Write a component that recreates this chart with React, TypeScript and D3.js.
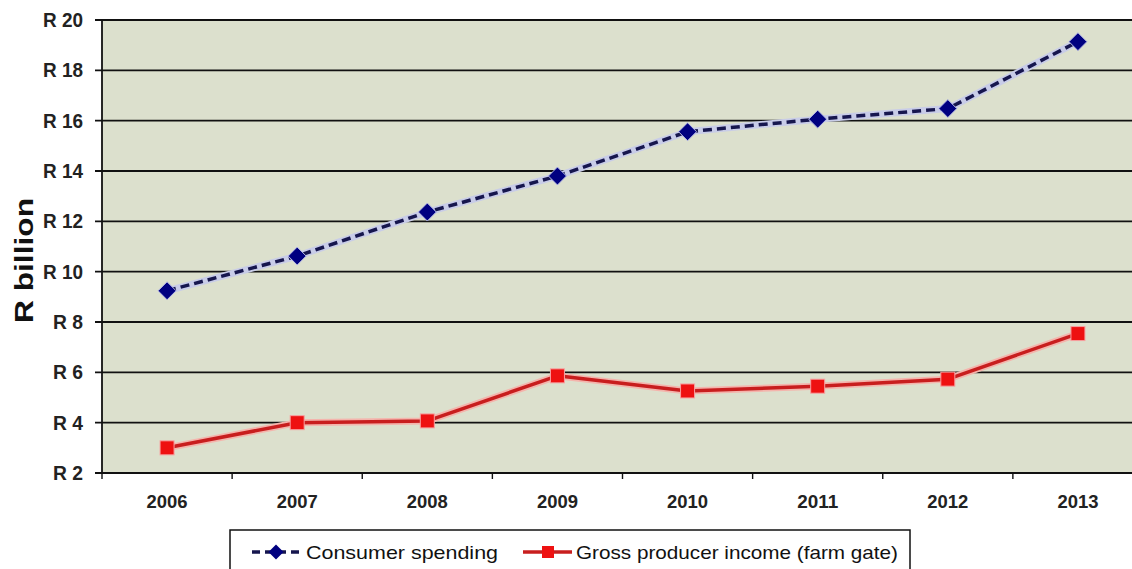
import React from "react";
import * as d3 from "d3";

const years = ["2006", "2007", "2008", "2009", "2010", "2011", "2012", "2013"];
const consumerSpending = [9.24, 10.62, 12.37, 13.8, 15.56, 16.06, 16.48, 19.14];
const producerIncome = [3.0, 4.0, 4.07, 5.86, 5.26, 5.45, 5.73, 7.54];
const yTicks = [2, 4, 6, 8, 10, 12, 14, 16, 18, 20];
const seriesNames = ["Consumer spending", "Gross producer income (farm gate)"];

const W = 1132;
const H = 569;
const left = 102;
const right = 1143;
const top = 20;
const bottom = 473;

export default function App() {
  const x = d3.scaleBand<string>().domain(years).range([left, right]).paddingInner(0).paddingOuter(0);
  const y = d3.scaleLinear().domain([2, 20]).range([bottom, top]);
  const cx = (d: string) => (x(d) as number) + x.bandwidth() / 2;

  const line = d3
    .line<number>()
    .x((_, i) => cx(years[i]))
    .y((v) => y(v));

  const consumerPath = line(consumerSpending) as string;
  const producerPath = line(producerIncome) as string;

  const font = "'Liberation Sans', Arial, sans-serif";
  const boundaries = years.map((d) => x(d) as number).concat([right]);

  const diamond = (px: number, py: number, r: number) =>
    `M${px},${py - r}L${px + r},${py}L${px},${py + r}L${px - r},${py}Z`;

  return (
    <svg
      width={W}
      height={H}
      style={{ position: "absolute", left: 0, top: 0, background: "#fff" }}
    >
      <rect x={left} y={top} width={right - left} height={bottom - top} fill="#dce0cd" />
      {yTicks.map((t) => (
        <g key={t}>
          <line x1={left - 7} x2={right} y1={y(t)} y2={y(t)} stroke="#111" strokeWidth={1.8} />
          <text
            x={83}
            y={y(t) + 7}
            textAnchor="end"
            fontFamily={font}
            fontWeight="bold"
            fontSize={20}
            fill="#222"
            textLength={t >= 10 ? 40 : 30}
            lengthAdjust="spacingAndGlyphs"
          >
            {`R ${t}`}
          </text>
        </g>
      ))}
      <line x1={left} x2={left} y1={top} y2={bottom + 1} stroke="#111" strokeWidth={1.8} />
      <line x1={left} x2={right} y1={bottom} y2={bottom} stroke="#111" strokeWidth={1.8} />
      {boundaries.map((b, i) => (
        <line key={i} x1={b} x2={b} y1={bottom} y2={bottom + 6} stroke="#111" strokeWidth={1.4} />
      ))}
      {years.map((yr) => (
        <text
          key={yr}
          x={cx(yr)}
          y={508}
          textAnchor="middle"
          fontFamily={font}
          fontWeight="bold"
          fontSize={18.5}
          fill="#222"
          textLength={41}
          lengthAdjust="spacingAndGlyphs"
        >
          {yr}
        </text>
      ))}
      <text
        transform={`translate(33, ${(top + bottom) / 2 + 14}) rotate(-90)`}
        textAnchor="middle"
        fontFamily={font}
        fontWeight="bold"
        fontSize={25}
        fill="#111"
        textLength={125}
        lengthAdjust="spacingAndGlyphs"
      >
        R billion
      </text>

      {/* Producer income */}
      <path d={producerPath} fill="none" stroke="#f4b4ac" strokeWidth={7} strokeLinejoin="round" />
      <path d={producerPath} fill="none" stroke="#c81e1e" strokeWidth={3.5} strokeLinejoin="round" />
      {producerIncome.map((v, i) => (
        <rect key={i} x={cx(years[i]) - 7} y={y(v) - 7} width={14} height={14} fill="#ee1111" stroke="#f8a0a0" strokeWidth={1} />
      ))}

      {/* Consumer spending */}
      <path d={consumerPath} fill="none" stroke="#c8cce8" strokeWidth={7} strokeLinejoin="round" />
      <path d={consumerPath} fill="none" stroke="#16164e" strokeWidth={3.5} strokeDasharray="9,5" />
      {consumerSpending.map((v, i) => (
        <path key={i} d={diamond(cx(years[i]), y(v), 9)} fill="#000080" stroke="#b8bce8" strokeWidth={1} />
      ))}

      {/* Legend */}
      <rect x={230} y={530} width={680} height={50} fill="#fff" stroke="#111" strokeWidth={1.5} />
      <line x1={252} x2={300} y1={552} y2={552} stroke="#16164e" strokeWidth={3.5} strokeDasharray="8,5" />
      <path d={diamond(276, 552, 7.5)} fill="#000080" />
      <text x={306} y={559} fontFamily={font} fontSize={19} fill="#111" textLength={192} lengthAdjust="spacingAndGlyphs">
        {seriesNames[0]}
      </text>
      <line x1={523} x2={572} y1={552} y2={552} stroke="#c81e1e" strokeWidth={3.5} />
      <rect x={542} y={546} width={12} height={12} fill="#ee1111" />
      <text x={576} y={559} fontFamily={font} fontSize={19} fill="#111" textLength={322} lengthAdjust="spacingAndGlyphs">
        {seriesNames[1]}
      </text>
    </svg>
  );
}
